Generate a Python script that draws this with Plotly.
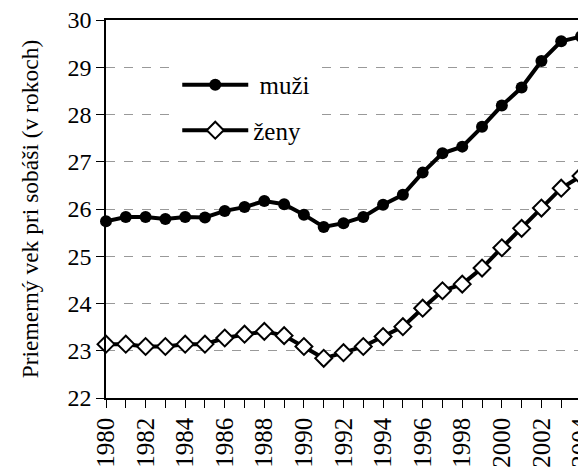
import plotly.graph_objects as go

years = list(range(1980, 2005))
muzi = [25.74, 25.83, 25.83, 25.79, 25.83, 25.82, 25.96, 26.04, 26.17, 26.10, 25.88, 25.62,
        25.70, 25.83, 26.09, 26.30, 26.77, 27.18, 27.32, 27.74, 28.19, 28.57, 29.13, 29.55, 29.65]
zeny = [23.14, 23.14, 23.09, 23.09, 23.14, 23.14, 23.27, 23.35, 23.41, 23.32, 23.09, 22.84,
        22.96, 23.09, 23.30, 23.51, 23.90, 24.27, 24.41, 24.75, 25.18, 25.59, 26.02, 26.44, 26.70]
x_labels = [str(y) if y % 2 == 0 else "" for y in years]
y_ticks = list(range(22, 31))
name_m = " muži"
name_z = "ženy"
y_title = "Priemerný vek pri sobáši (v rokoch)"

FONT = "Liberation Serif"

fig = go.Figure()
fig.add_trace(go.Scatter(x=years, y=muzi, name=name_m, mode="lines+markers",
                         line=dict(color="black", width=4),
                         marker=dict(symbol="circle", size=12, color="black"),
                         cliponaxis=False, legendgroup="m"))
fig.add_trace(go.Scatter(x=years, y=zeny, name=name_z, mode="lines+markers",
                         line=dict(color="black", width=4),
                         marker=dict(symbol="diamond", size=13, color="white",
                                     line=dict(color="black", width=2)),
                         cliponaxis=False, legendgroup="z"))

fig.update_layout(
    width=578, height=459,
    margin=dict(l=98, r=5, t=12, b=69, autoexpand=False),
    paper_bgcolor="white", plot_bgcolor="white",
    font=dict(family=FONT, color="black", size=22),
    showlegend=True,
    legend=dict(x=0.15, y=0.889, xanchor="left", yanchor="top",
                bgcolor="white", borderwidth=0,
                font=dict(family=FONT, size=25, color="black"),
                tracegroupgap=10, itemwidth=66),
    xaxis=dict(range=[1980, 2004], tickmode="array", tickvals=years, ticktext=x_labels,
               tickangle=-90, ticks="outside", ticklen=8, tickcolor="black",
               showline=True, linecolor="black", linewidth=1.5, mirror=True,
               showgrid=False, zeroline=False, automargin=False,
               ticklabeloverflow="allow",
               tickfont=dict(family=FONT, size=25, color="black")),
    yaxis=dict(range=[22, 30], tickmode="array", tickvals=y_ticks, ticks="outside", ticklen=8, tickcolor="black",
               showline=True, linecolor="black", linewidth=1.5, mirror=True,
               showgrid=True, gridcolor="#999999", griddash="dash", gridwidth=1,
               zeroline=False, automargin=False,
               ticklabeloverflow="allow",
               tickfont=dict(family=FONT, size=24, color="black"),
               title=dict(text=y_title, font=dict(family=FONT, size=23.5, color="black"), standoff=22)),
)

fig.write_html("out.html")
